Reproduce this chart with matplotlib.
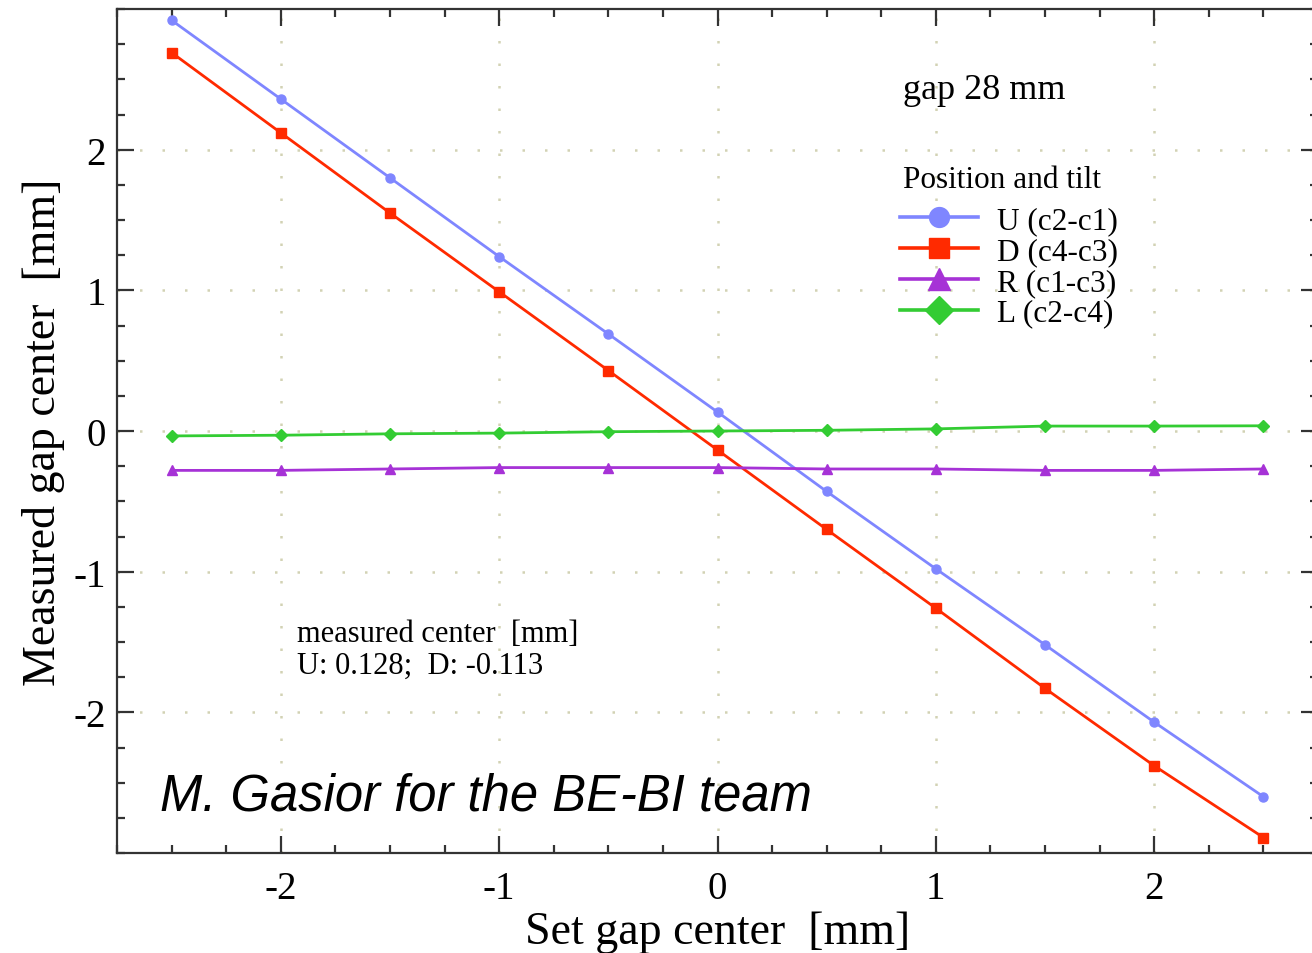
import numpy as np
import matplotlib
matplotlib.use("Agg")
import matplotlib.pyplot as plt
from matplotlib.ticker import MultipleLocator

# ------------------------
# Data
# ------------------------
set_center = [-2.5, -2.0, -1.5, -1.0, -0.5, 0.0, 0.5, 1.0, 1.5, 2.0, 2.5]

u_vals = [2.92, 2.36, 1.80, 1.24, 0.69, 0.135, -0.43, -0.98, -1.52, -2.07, -2.60]
d_vals = [2.69, 2.12, 1.55, 0.99, 0.43, -0.135, -0.70, -1.26, -1.83, -2.38, -2.89]
r_vals = [-0.28, -0.28, -0.27, -0.26, -0.26, -0.26, -0.27, -0.27, -0.28, -0.28, -0.27]
l_vals = [-0.035, -0.03, -0.02, -0.015, -0.005, 0.0, 0.005, 0.015, 0.035, 0.035, 0.037]

series_labels = ["U (c2-c1)", "D (c4-c3)", "R (c1-c3)", "L (c2-c4)"]
series_colors = ["#7f86ff", "#ff2a00", "#a632d6", "#33cc33"]
series_markers = ["o", "s", "^", "D"]
series_sizes = [6.5, 6.5, 7.5, 6.5]

xticks = [-2, -1, 0, 1, 2]
yticks = [-2, -1, 0, 1, 2]

plt.rcParams["font.family"] = ["Liberation Serif", "DejaVu Serif"]
plt.rcParams["axes.unicode_minus"] = False

W, H = 1312, 954
fig = plt.figure(figsize=(W / 100, H / 100), dpi=100)

# axes box in pixels: left 117, right 1318, top 10, bottom 854
ax = fig.add_axes([117 / W, (H - 854) / H, (1318 - 117) / W, (854 - 10) / H])

for y, lab, col, mk, ms in zip([u_vals, d_vals, r_vals, l_vals], series_labels,
                               series_colors, series_markers, series_sizes):
    ax.plot(set_center, y, color=col, lw=2.0, marker=mk, ms=ms,
            markeredgecolor=col, label=lab, zorder=3)

ax.set_xlim(-2.75, 2.75)
ax.set_ylim(-3, 3)
ax.set_xticks(xticks)
ax.set_yticks(yticks)
ax.xaxis.set_minor_locator(MultipleLocator(0.25))
ax.yaxis.set_minor_locator(MultipleLocator(0.25))

ax.grid(True, which="major", color="#d2d2b4", linestyle=(0, (1, 8)), lw=1.8)

for s in ax.spines.values():
    s.set_linewidth(1.6)
    s.set_color("#333333")

ax.tick_params(which="both", direction="in", top=True, right=True,
               color="#333333", width=1.6)
ax.tick_params(which="major", length=12.5, labelsize=28)
ax.tick_params(which="minor", length=6)
ax.tick_params(axis="x", which="major", pad=12)
ax.tick_params(axis="y", which="major", pad=8)

ax.set_xlabel("Set gap center  [mm]", fontsize=33, labelpad=3)
ax.set_ylabel("Measured gap center  [mm]", fontsize=33, labelpad=6)

# text annotations, positions in pixels from the top-left corner
notes = [
    (903, 91, "gap 28 mm", 26, {}),
    (903, 181, "Position and tilt", 22.5, {}),
    (297, 634, "measured center  [mm]", 22, {}),
    (297, 666, "U: 0.128;  D: -0.113", 22, {}),
    (160, 797, "M. Gasior for the BE-BI team", 36.5,
     {"style": "italic", "family": ["Liberation Sans", "DejaVu Sans"]}),
]
for x, y, s, fs, kw in notes:
    fig.text(x / W, 1 - y / H, s, fontsize=fs, va="center", ha="left", **kw)

leg = ax.legend(loc="upper left",
                bbox_to_anchor=((900 - 117) / (1318 - 117), (854 - 207) / (854 - 10)),
                frameon=False, fontsize=22.5, markerscale=2.2,
                handlelength=2.5, handletextpad=0.6, labelspacing=0.06,
                borderpad=0, borderaxespad=0)
for ln in leg.get_lines():
    ln.set_linewidth(2.6)

fig.savefig("out.png", dpi=100)
